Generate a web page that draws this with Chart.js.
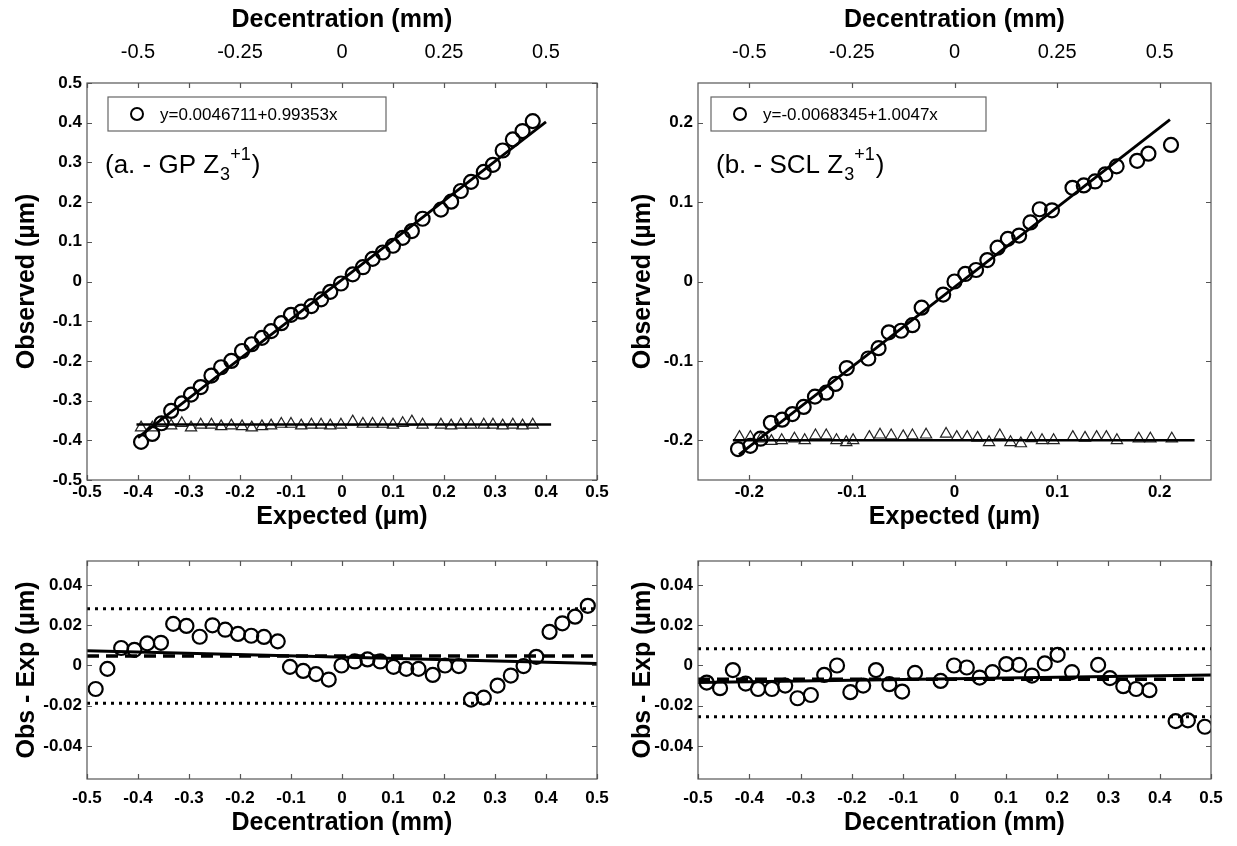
<!DOCTYPE html>
<html>
<head>
<meta charset="utf-8">
<script src="https://cdn.jsdelivr.net/npm/chart.js@4.4.0/dist/chart.umd.min.js"></script>
<style>
  body { margin: 0; background: #fff; }
  #wrap { position: relative; width: 1237px; height: 846px; }
  canvas { position: absolute; }
</style>
</head>
<body>
<div id="wrap">
  <canvas id="cA" width="620" height="540" style="left:0;top:0"></canvas>
  <canvas id="cB" width="617" height="540" style="left:620px;top:0"></canvas>
  <canvas id="cC" width="620" height="306" style="left:0;top:540px"></canvas>
  <canvas id="cD" width="617" height="306" style="left:620px;top:540px"></canvas>
</div>
<script>
// ---- panel a : GP, observed vs expected (µm)
var expA = [-0.394,-0.372,-0.354,-0.335,-0.314,-0.296,-0.277,-0.256,-0.237,-0.217,-0.196,-0.177,-0.157,-0.139,-0.119,-0.100,-0.080,-0.060,-0.041,-0.023,-0.002,0.021,0.041,0.060,0.080,0.100,0.119,0.137,0.158,0.194,0.214,0.233,0.253,0.278,0.296,0.315,0.335,0.354,0.374];
var obsA = [-0.404,-0.384,-0.357,-0.326,-0.307,-0.285,-0.266,-0.237,-0.216,-0.200,-0.175,-0.158,-0.142,-0.125,-0.105,-0.084,-0.076,-0.062,-0.045,-0.026,-0.005,0.018,0.036,0.057,0.073,0.090,0.110,0.127,0.158,0.181,0.201,0.228,0.251,0.276,0.294,0.330,0.358,0.379,0.404];
var triA = [-0.368,-0.368,-0.357,-0.363,-0.357,-0.368,-0.361,-0.361,-0.365,-0.363,-0.365,-0.368,-0.365,-0.363,-0.359,-0.359,-0.363,-0.361,-0.361,-0.363,-0.361,-0.353,-0.359,-0.359,-0.359,-0.361,-0.357,-0.353,-0.361,-0.361,-0.363,-0.361,-0.361,-0.361,-0.361,-0.363,-0.361,-0.363,-0.361];
var fitXA = [-0.4, 0.4];
var fitYA = [-0.393, 0.402];
var baseXA = [-0.403, 0.41];
var baseYA = [-0.36, -0.36];

// ---- panel b : SCL
var expB = [-0.211,-0.199,-0.189,-0.179,-0.168,-0.158,-0.147,-0.136,-0.125,-0.116,-0.105,-0.084,-0.074,-0.064,-0.052,-0.041,-0.032,-0.011,0,0.0105,0.021,0.032,0.042,0.052,0.063,0.074,0.083,0.095,0.115,0.126,0.137,0.147,0.158,0.178,0.189,0.211];
var obsB = [-0.211,-0.207,-0.198,-0.178,-0.174,-0.167,-0.158,-0.145,-0.140,-0.129,-0.109,-0.097,-0.084,-0.064,-0.062,-0.055,-0.033,-0.0165,0,0.0095,0.0145,0.027,0.0426,0.0537,0.0579,0.0744,0.091,0.0897,0.118,0.121,0.126,0.135,0.145,0.152,0.161,0.172];
var triXB = [-0.2096,-0.199,-0.1886,-0.1785,-0.1684,-0.156,-0.146,-0.1355,-0.125,-0.115,-0.1055,-0.0988,-0.083,-0.0726,-0.0617,-0.050,-0.041,-0.0277,-0.0082,0.0022,0.0124,0.0225,0.0337,0.0442,0.0546,0.0647,0.0749,0.0853,0.0966,0.1153,0.1272,0.1385,0.148,0.1583,0.1796,0.1909,0.2118];
var triYB = [-0.196,-0.196,-0.198,-0.201,-0.200,-0.198,-0.200,-0.194,-0.194,-0.200,-0.2025,-0.200,-0.196,-0.193,-0.194,-0.195,-0.194,-0.193,-0.192,-0.196,-0.196,-0.197,-0.2025,-0.194,-0.2025,-0.204,-0.1975,-0.200,-0.200,-0.196,-0.197,-0.196,-0.196,-0.200,-0.198,-0.198,-0.198];
var fitXB = [-0.21, 0.21];
var fitYB = [-0.218, 0.204];
var baseXB = [-0.216, 0.234];
var baseYB = [-0.2, -0.2];

// ---- panel c : GP residuals vs decentration (mm)
var decC = [-0.483,-0.460,-0.433,-0.407,-0.382,-0.355,-0.331,-0.305,-0.279,-0.254,-0.229,-0.204,-0.178,-0.153,-0.126,-0.102,-0.076,-0.051,-0.026,-0.001,0.025,0.050,0.075,0.101,0.126,0.150,0.178,0.202,0.229,0.253,0.278,0.305,0.331,0.356,0.381,0.407,0.432,0.457,0.482];
var resC = [-0.0117,-0.0017,0.0087,0.0078,0.011,0.0113,0.0207,0.0197,0.0143,0.020,0.0178,0.0157,0.0148,0.0142,0.012,-0.0007,-0.0027,-0.0043,-0.007,0,0.002,0.003,0.002,-0.0007,-0.0017,-0.0017,-0.0047,0,-0.0003,-0.017,-0.016,-0.010,-0.005,-0.0003,0.0043,0.0167,0.021,0.0243,0.0297];
var lineX = [-0.5, 0.5];
var regYC = [0.0073, 0.001];
var meanYC = [0.0047, 0.0047];
var upYC = [0.0282, 0.0282];
var loYC = [-0.0188, -0.0188];

// ---- panel d : SCL residuals
var decD = [-0.483,-0.457,-0.432,-0.407,-0.383,-0.356,-0.330,-0.306,-0.280,-0.254,-0.229,-0.203,-0.178,-0.153,-0.127,-0.102,-0.077,-0.027,-0.001,0.024,0.049,0.074,0.101,0.126,0.151,0.176,0.201,0.229,0.280,0.303,0.329,0.354,0.380,0.431,0.455,0.488];
var resD = [-0.0085,-0.0113,-0.0023,-0.009,-0.0117,-0.0117,-0.010,-0.0163,-0.0147,-0.0047,0,-0.0133,-0.010,-0.0023,-0.0093,-0.013,-0.0037,-0.0077,0,-0.001,-0.006,-0.0033,0.0007,0.0003,-0.005,0.001,0.0053,-0.0033,0.0003,-0.0063,-0.0103,-0.0117,-0.0123,-0.0277,-0.0273,-0.0305];
var regYD = [-0.0085, -0.0048];
var meanYD = [-0.0068, -0.0068];
var upYD = [0.0083, 0.0083];
var loYD = [-0.0255, -0.0255];

// ---- ticks
var ticksA = [-0.5,-0.4,-0.3,-0.2,-0.1,0,0.1,0.2,0.3,0.4,0.5];
var ticksB = [-0.2,-0.1,0,0.1,0.2];
var topPosA = [-0.4,-0.2,0,0.2,0.4];
var topPosB = [-0.2,-0.1,0,0.1,0.2];
var topLabels = ['-0.5','-0.25','0','0.25','0.5'];
var ticksRes = [-0.04,-0.02,0,0.02,0.04];
var ticksDec = [-0.5,-0.4,-0.3,-0.2,-0.1,0,0.1,0.2,0.3,0.4,0.5];

var legendA = 'y=0.0046711+0.99353x';
var legendB = 'y=-0.0068345+1.0047x';

Chart.defaults.font.family = '"Liberation Sans", Arial, Helvetica, sans-serif';
Chart.defaults.color = '#000';

function pts(xs, ys) {
    return xs.map(function(x, i) { return { x: x, y: ys[i] }; });
}
function fmt(v) {
    return String(Math.round(v * 1000) / 1000);
}
function setTicks(vals) {
    return function(s) { s.ticks = vals.map(function(v) { return { value: v }; }); };
}

// box with inward tick marks, like matlab
var framePlugin = {
    id: 'frame',
    afterDraw: function(chart) {
        var ctx = chart.ctx, a = chart.chartArea;
        var sx = chart.scales.x, sy = chart.scales.y;
        ctx.save();
        ctx.strokeStyle = '#555';
        ctx.lineWidth = 1.2;
        ctx.strokeRect(a.left, a.top, a.right - a.left, a.bottom - a.top);
        ctx.beginPath();
        sx.ticks.forEach(function(t) {
            var px = Math.round(sx.getPixelForValue(t.value)) + 0.5;
            ctx.moveTo(px, a.bottom); ctx.lineTo(px, a.bottom - 5);
            ctx.moveTo(px, a.top); ctx.lineTo(px, a.top + 5);
        });
        sy.ticks.forEach(function(t) {
            var py = Math.round(sy.getPixelForValue(t.value)) + 0.5;
            ctx.moveTo(a.left, py); ctx.lineTo(a.left + 5, py);
            ctx.moveTo(a.right, py); ctx.lineTo(a.right - 5, py);
        });
        ctx.stroke();
        ctx.restore();
    }
};

// legend box + panel label
var decorPlugin = {
    id: 'decor',
    afterDraw: function(chart, args, opts) {
        if (!opts.legend) return;
        var ctx = chart.ctx, a = chart.chartArea;
        ctx.save();
        var bx = a.left + opts.boxDx, by = a.top + 14;
        ctx.fillStyle = '#fff';
        ctx.fillRect(bx, by, opts.boxW, 34);
        ctx.strokeStyle = '#666';
        ctx.lineWidth = 1.2;
        ctx.strokeRect(bx, by, opts.boxW, 34);
        ctx.beginPath();
        ctx.arc(bx + 29, by + 17, 6, 0, Math.PI * 2);
        ctx.strokeStyle = '#000';
        ctx.lineWidth = 2;
        ctx.stroke();
        ctx.fillStyle = '#000';
        ctx.font = '17px "Liberation Sans", Arial, sans-serif';
        ctx.textBaseline = 'middle';
        ctx.fillText(opts.legend, bx + 52, by + 18);

        // (a. - GP Z3+1)
        var x = a.left + 18, y = a.top + 90;
        ctx.textBaseline = 'alphabetic';
        ctx.font = '26px "Liberation Sans", Arial, sans-serif';
        ctx.fillText(opts.label, x, y);
        x += ctx.measureText(opts.label).width;
        ctx.font = '18px "Liberation Sans", Arial, sans-serif';
        ctx.fillText('3', x + 1, y + 7);
        x += ctx.measureText('3').width + 1;
        ctx.fillText('+1', x, y - 13);
        x += ctx.measureText('+1').width + 1;
        ctx.font = '26px "Liberation Sans", Arial, sans-serif';
        ctx.fillText(')', x, y);
        ctx.restore();
    }
};

function lineSet(xs, ys, width, dash) {
    return {
        data: pts(xs, ys), showLine: true, borderColor: '#000', borderWidth: width,
        borderDash: dash || [], borderCapStyle: 'butt', pointRadius: 0, order: 1
    };
}
function circleSet(xs, ys) {
    return {
        data: pts(xs, ys), pointStyle: 'circle', pointRadius: 7,
        pointBorderWidth: 2.2, borderWidth: 2.2, borderColor: '#000',
        pointBackgroundColor: 'rgba(0,0,0,0)', backgroundColor: 'rgba(0,0,0,0)', order: 2
    };
}
function triSet(xs, ys) {
    return {
        data: pts(xs, ys), pointStyle: 'triangle', pointRadius: 6.5,
        pointBorderWidth: 1.2, borderWidth: 1.2, borderColor: '#222',
        pointBackgroundColor: 'rgba(0,0,0,0)', backgroundColor: 'rgba(0,0,0,0)', order: 3
    };
}

var tickFont = { size: 17, weight: 'bold' };
var titleFont = { size: 25, weight: 'bold' };

function topChart(id, datasets, lim, ticks, topPos, yWidth, padRight, yTitlePad, legend, boxDx, boxW, label) {
    return new Chart(document.getElementById(id).getContext('2d'), {
        type: 'scatter',
        data: { datasets: datasets },
        options: {
            responsive: false, animation: false, devicePixelRatio: 1,
            layout: { padding: { left: 0, right: padRight, top: 0, bottom: 0 } },
            plugins: {
                legend: { display: false }, tooltip: { enabled: false },
                decor: { legend: legend, boxDx: boxDx, boxW: boxW, label: label }
            },
            scales: {
                x: {
                    type: 'linear', position: 'bottom', min: -lim, max: lim,
                    afterBuildTicks: setTicks(ticks),
                    ticks: { callback: fmt, font: tickFont, padding: 2, maxRotation: 0, autoSkip: false },
                    grid: { display: false, drawTicks: false }, border: { display: false },
                    title: { display: true, text: 'Expected (µm)', font: titleFont, padding: { top: 0, bottom: 8 } },
                    afterFit: function(s) { s.height = 60; }
                },
                xTop: {
                    type: 'linear', position: 'top', min: -lim, max: lim,
                    afterBuildTicks: setTicks(topPos),
                    ticks: { callback: function(v, i) { return topLabels[i]; }, font: { size: 20 }, padding: 19, maxRotation: 0, autoSkip: false },
                    grid: { display: false, drawTicks: false }, border: { display: false },
                    title: { display: true, text: 'Decentration (mm)', font: titleFont, padding: { top: 5, bottom: 0 } },
                    afterFit: function(s) { s.height = 83; }
                },
                y: {
                    type: 'linear', min: -lim, max: lim,
                    afterBuildTicks: setTicks(ticks),
                    ticks: { callback: fmt, font: tickFont, padding: 5, autoSkip: false },
                    grid: { display: false, drawTicks: false }, border: { display: false },
                    title: { display: true, text: 'Observed (µm)', font: titleFont, padding: { top: yTitlePad, bottom: 0 } },
                    afterFit: function(s) { s.width = yWidth; }
                }
            }
        },
        plugins: [framePlugin, decorPlugin]
    });
}

function resChart(id, datasets, yWidth, padRight, yTitlePad) {
    return new Chart(document.getElementById(id).getContext('2d'), {
        type: 'scatter',
        data: { datasets: datasets },
        options: {
            responsive: false, animation: false, devicePixelRatio: 1,
            layout: { padding: { left: 0, right: padRight, top: 21, bottom: 0 } },
            plugins: { legend: { display: false }, tooltip: { enabled: false } },
            scales: {
                x: {
                    type: 'linear', position: 'bottom', min: -0.5, max: 0.5,
                    afterBuildTicks: setTicks(ticksDec),
                    ticks: { callback: fmt, font: tickFont, padding: 9, maxRotation: 0, autoSkip: false },
                    grid: { display: false, drawTicks: false }, border: { display: false },
                    title: { display: true, text: 'Decentration (mm)', font: titleFont, padding: { top: 0, bottom: 8 } },
                    afterFit: function(s) { s.height = 67; }
                },
                y: {
                    type: 'linear', min: -0.0565, max: 0.052,
                    afterBuildTicks: setTicks(ticksRes),
                    ticks: { callback: fmt, font: tickFont, padding: 5, autoSkip: false },
                    grid: { display: false, drawTicks: false }, border: { display: false },
                    title: { display: true, text: 'Obs - Exp (µm)', font: titleFont, padding: { top: yTitlePad, bottom: 0 } },
                    afterFit: function(s) { s.width = yWidth; }
                }
            }
        },
        plugins: [framePlugin]
    });
}

topChart('cA', [
    lineSet(fitXA, fitYA, 2.8),
    lineSet(baseXA, baseYA, 2.5),
    circleSet(expA, obsA),
    triSet(expA, triA)
], 0.5, ticksA, topPosA, 87, 23, 12, legendA, 21, 278, '(a. - GP Z');

topChart('cB', [
    lineSet(fitXB, fitYB, 2.8),
    lineSet(baseXB, baseYB, 2.5),
    circleSet(expB, obsB),
    triSet(triXB, triYB)
], 0.25, ticksB, topPosB, 78, 26, 8, legendB, 13, 275, '(b. - SCL Z');

resChart('cC', [
    lineSet(lineX, upYC, 3, [3, 5]),
    lineSet(lineX, loYC, 3, [3, 5]),
    lineSet(lineX, meanYC, 3.5, [12, 7]),
    lineSet(lineX, regYC, 3),
    circleSet(decC, resC)
], 87, 23, 12);

resChart('cD', [
    lineSet(lineX, upYD, 3, [3, 5]),
    lineSet(lineX, loYD, 3, [3, 5]),
    lineSet(lineX, meanYD, 3.5, [12, 7]),
    lineSet(lineX, regYD, 3),
    circleSet(decD, resD)
], 78, 26, 8);
</script>
</body>
</html>
